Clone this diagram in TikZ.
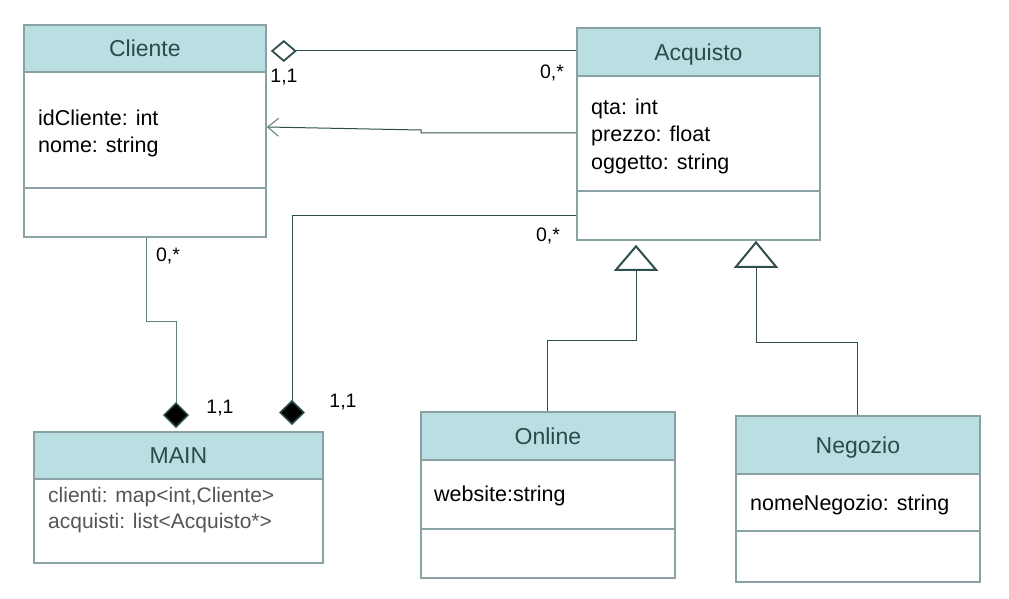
\documentclass[tikz,border=0pt]{standalone}
\usepackage{fontspec}
\setmainfont{Liberation Sans}
\usetikzlibrary{arrows.meta,calc}
\definecolor{headfill}{RGB}{185,223,226}
\definecolor{bordercol}{RGB}{138,162,164}
\definecolor{headtext}{RGB}{43,74,77}
\definecolor{linedark}{RGB}{47,79,79}
\definecolor{linelight}{RGB}{95,127,128}
\definecolor{graytext}{RGB}{85,85,85}
\tikzset{
  classbox/.style={draw=bordercol, line width=1.8pt, fill=white, anchor=north west, inner sep=0pt},
  headbox/.style={draw=bordercol, line width=1.8pt, fill=headfill, anchor=north west, inner sep=0pt,
    text=headtext, font=\fontsize{23}{23}\selectfont, text height=16.5pt, text depth=0pt},
  attr/.style={anchor=base west, inner sep=0pt, font=\fontsize{21.5}{21.5}\selectfont},
  mattr/.style={anchor=base west, inner sep=0pt, font=\fontsize{21}{21}\selectfont, text=graytext},
  mult/.style={inner sep=0pt, font=\fontsize{19.5}{19.5}\selectfont},
  divider/.style={draw=bordercol, line width=1.8pt},
  conn/.style={draw=linedark, line width=1pt},
  connlight/.style={draw=linelight, line width=1pt},
}
\begin{document}
\begin{tikzpicture}[x=1pt,y=-1pt]
\useasboundingbox (0,0) rectangle (1009,599);
% Cliente
\node[classbox, minimum width=242pt, minimum height=212pt] (cliente) at (23,24) {};
\node[headbox, minimum width=242pt, minimum height=47pt] (clienteH) at (23,24) {Cliente};
\draw[divider] ($(cliente.north west)+(0,164)$) -- ($(cliente.north east)+(0,164)$);
\node[attr] (c1) at (38,126) {idCliente: int};
\node[attr] (c2) at (38,153) {nome: string};
% Acquisto
\node[classbox, minimum width=243pt, minimum height=212pt] (acq) at (576,27) {};
\node[headbox, minimum width=243pt, minimum height=48pt] (acqH) at (576,27) {Acquisto};
\draw[divider] ($(acq.north west)+(0,164)$) -- ($(acq.north east)+(0,164)$);
\node[attr] (a1) at (591,115) {qta: int};
\node[attr] (a2) at (591,142) {prezzo: float};
\node[attr] (a3) at (591,169) {oggetto: string};
% MAIN
\node[classbox, minimum width=289pt, minimum height=131pt] (main) at (33,431) {};
\node[headbox, minimum width=289pt, minimum height=47pt] (mainH) at (33,431) {MAIN};
\node[mattr] (m1) at (48,502) {clienti: map<int,Cliente>};
\node[mattr] (m2) at (48,528) {acquisti: list<Acquisto*>};
% Online
\node[classbox, minimum width=254pt, minimum height=166pt] (online) at (420,411) {};
\node[headbox, minimum width=254pt, minimum height=48pt] (onlineH) at (420,411) {Online};
\draw[divider] ($(online.north west)+(0,118)$) -- ($(online.north east)+(0,118)$);
\node[attr] (o1) at (434,501) {website:string};
% Negozio
\node[classbox, minimum width=244pt, minimum height=166pt] (negozio) at (735,415) {};
\node[headbox, minimum width=244pt, minimum height=58pt] (negozioH) at (735,415) {Negozio};
\draw[divider] ($(negozio.north west)+(0,116)$) -- ($(negozio.north east)+(0,116)$);
\node[attr] (n1) at (750,510) {nomeNegozio: string};
% Aggregation Cliente <> Acquisto
\draw[conn, {Diamond[open, fill=white, length=26pt, width=22pt, line width=1.8pt]}-, shorten <=4pt]
  ($(cliente.north east)+(0,27)$) -- ($(acq.north west)+(0,24)$);
% Directed association Acquisto -> Cliente
\draw[conn, -{Straight Barb[length=11pt, width=18pt, color=linelight]}]
  ($(acq.north west)+(0,106)$) -- ++(-155,0) -- ++(0,-3) -- ($(cliente.north east)+(0,103)$);
% Composition Acquisto -> MAIN
\draw[conn, -{Diamond[fill=black, length=25pt, width=26pt, line width=1.5pt]}]
  ($(acq.north west)+(0,188)$) -| ($(main.north west)+(259,-6)$);
% Composition Cliente -> MAIN
\draw[connlight, -{Diamond[fill=black, color=linedark, length=26pt, width=26pt, line width=1.5pt]}]
  ($(cliente.south west)+(123,0)$) -- ++(0,84) -| ($(main.north west)+(143,-3)$);
% Generalizations
\draw[conn, -{Triangle[open, length=26pt, width=44pt, line width=2pt]}]
  ($(online.north west)+(127,0)$) -- ++(0,-71) -| ($(acq.south west)+(60,4)$);
\draw[conn, -{Triangle[open, length=27pt, width=44pt, line width=2pt]}]
  ($(negozio.north west)+(122,0)$) -- ++(0,-73) -| ($(acq.south west)+(180,0)$);
% Multiplicities
\node[mult] (l1) at (284,77) {1,1};
\node[mult] (l2) at (552,73) {0,*};
\node[mult] (l3) at (548,236) {0,*};
\node[mult] (l4) at (168,256) {0,*};
\node[mult] (l5) at (220,408) {1,1};
\node[mult] (l6) at (343,402) {1,1};
\end{tikzpicture}
\end{document}
